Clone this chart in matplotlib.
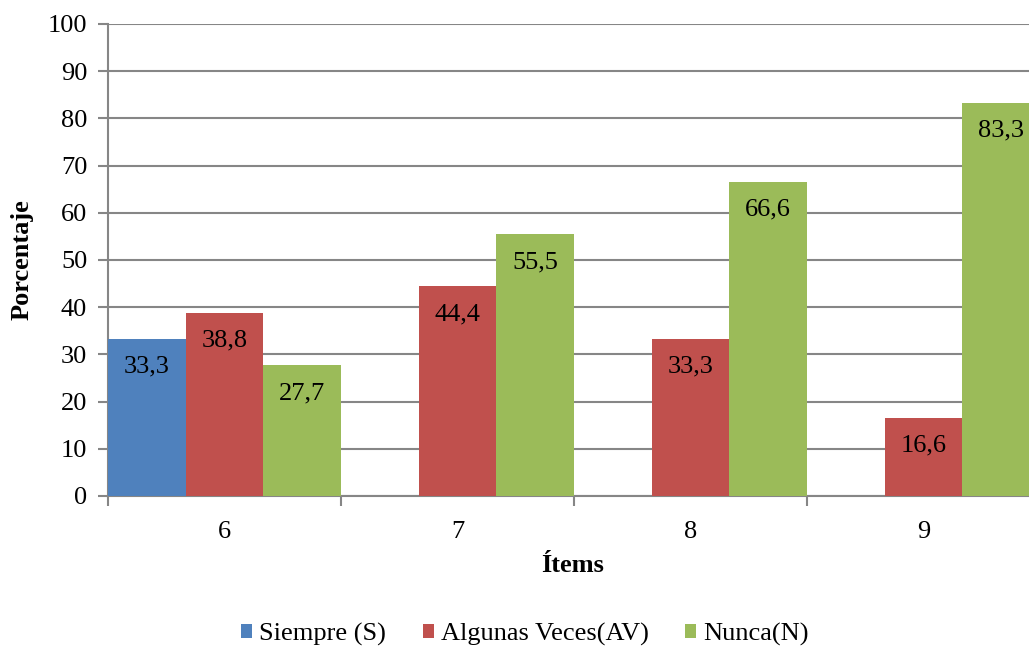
import matplotlib
matplotlib.use("Agg")
import matplotlib.pyplot as plt
import numpy as np

plt.rcParams['font.family'] = ['Liberation Serif', 'DejaVu Serif']

# Datos
items = ["6", "7", "8", "9"]
series = ["Siempre (S)", "Algunas Veces(AV)", "Nunca(N)"]
siempre = [33.3, 0, 0, 0]
algunas = [38.8, 44.4, 33.3, 16.6]
nunca = [27.7, 55.5, 66.6, 83.3]
colores = ["#4F81BD", "#C0504D", "#9BBB59"]

W, H = 1029, 649
fig = plt.figure(figsize=(W / 100, H / 100), dpi=100)
# el area del grafico sigue algo mas alla del borde derecho
ax = fig.add_axes([108 / W, 1 - 496 / H, 932 / W, 472 / H])

x = np.arange(len(items))
ancho = 1 / 3
grid_col = "#868686"

for i, (nombre, vals, col) in enumerate(zip(series, [siempre, algunas, nunca], colores)):
    pos = x + (i - 1) * ancho
    bars = ax.bar(pos, vals, width=ancho, color=col, label=nombre, linewidth=0, zorder=3)
    for b, v in zip(bars, vals):
        if v > 0:
            ax.annotate(f"{v:.1f}".replace(".", ","),
                        (b.get_x() + b.get_width() / 2, v),
                        xytext=(0, -28), textcoords="offset pixels",
                        ha="center", va="center", fontsize=19, color="black", zorder=4)

ax.set_xlim(-0.5, len(items) - 0.5)
ax.set_ylim(0, 100)
ax.set_yticks(np.arange(0, 101, 10))
ax.yaxis.grid(True, color=grid_col, linewidth=1.5, zorder=0)
ax.set_axisbelow(True)

for s in ["top", "right"]:
    ax.spines[s].set_visible(False)
ax.spines["left"].set_color(grid_col)
ax.spines["left"].set_linewidth(1.5)
ax.spines["bottom"].set_color(grid_col)
ax.spines["bottom"].set_linewidth(1.5)

# marcas del eje x en los limites de cada categoria
ax.set_xticks(np.arange(-0.5, len(items), 1))
ax.set_xticklabels([])
ax.set_xticks(x, minor=True)
ax.set_xticklabels(items, minor=True, fontsize=19)
ax.tick_params(axis="x", which="major", length=7, width=1.5, color=grid_col, direction="out")
ax.tick_params(axis="x", which="minor", length=0, pad=18)
ax.tick_params(axis="y", length=7, width=1.5, color=grid_col, labelsize=19, pad=8)

fig.text(22 / W, 1 - 260 / H, "Porcentaje", rotation=90, ha="center", va="center",
         fontsize=19, fontweight="bold")
fig.text(573 / W, 1 - 566 / H, "Ítems", ha="center", va="center",
         fontsize=19, fontweight="bold")

fig.legend(loc="center", bbox_to_anchor=(525 / W, 1 - 634 / H), ncol=3, frameon=False,
           fontsize=19, handlelength=0.42, handleheight=0.42, handletextpad=0.25,
           columnspacing=1.4)

fig.savefig("out.png", dpi=100)
